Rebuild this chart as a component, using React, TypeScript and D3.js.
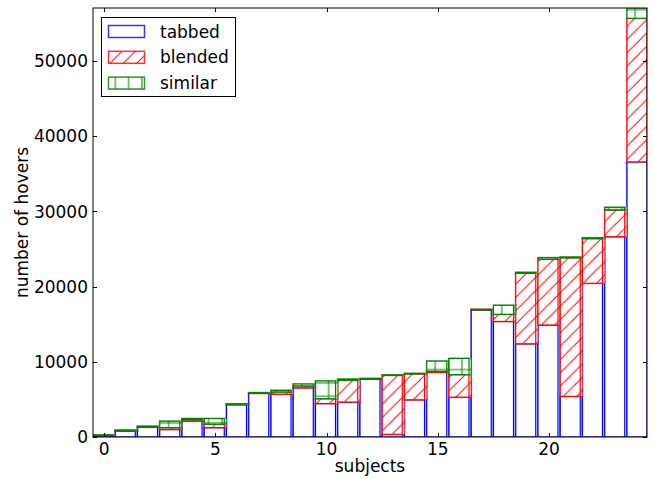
import React, { useEffect, useRef } from 'react';
import * as d3 from 'd3';

// values, one per subject
const subjects = d3.range(25);
const tabbed = [150, 800, 1300, 1000, 2100, 1250, 4300, 5800, 5700, 6550, 4450, 4650, 7700, 350, 4950, 8600, 5300, 16900, 15370, 12400, 14900, 5400, 20450, 26650, 36600];
const blended = [50, 50, 50, 250, 200, 450, 50, 50, 300, 250, 650, 2900, 40, 7850, 3450, 150, 3000, 40, 950, 9400, 8750, 18450, 5950, 3550, 19100];
const similar = [80, 60, 80, 850, 150, 750, 50, 50, 200, 250, 2350, 150, 40, 50, 50, 1350, 2150, 40, 1200, 100, 200, 80, 100, 350, 1370];
const xTicks = [0, 5, 10, 15, 20];
const yTicks = [0, 10000, 20000, 30000, 40000, 50000];

const series = [
  { name: 'tabbed', values: tabbed, color: '#0000ff', fill: '#ffffff' },
  { name: 'blended', values: blended, color: '#ff0000', fill: 'url(#hatch-slash)' },
  { name: 'similar', values: similar, color: '#008000', fill: 'url(#hatch-plus)' },
];

const App = () => {
  const chartRef = useRef<SVGSVGElement>(null);

  useEffect(() => {
    const width = 654;
    const height = 479;
    const margin = { top: 8, right: 7, bottom: 42, left: 93 };
    const font = 'DejaVu Sans, sans-serif';

    const svg = d3.select(chartRef.current);
    svg.selectAll('*').remove();

    const totals = subjects.map((i) => tabbed[i] + blended[i] + similar[i]);

    const x = d3.scaleLinear().domain([-0.5, 24.4]).range([margin.left, width - margin.right]);
    const y = d3.scaleLinear().domain([0, d3.max(totals)]).range([height - margin.bottom, margin.top]);

    const defs = svg.append('defs');
    const hs = 13.33;
    const slash = defs
      .append('pattern')
      .attr('id', 'hatch-slash')
      .attr('patternUnits', 'userSpaceOnUse')
      .attr('width', hs)
      .attr('height', hs);
    slash.append('rect').attr('width', hs).attr('height', hs).attr('fill', '#fff');
    slash
      .append('path')
      .attr('d', `M0,${hs} L${hs},0 M${-hs / 2},${hs / 2} L${hs / 2},${-hs / 2} M${hs / 2},${hs * 1.5} L${hs * 1.5},${hs / 2}`)
      .attr('stroke', '#ff0000')
      .attr('stroke-width', 1);

    const plus = defs
      .append('pattern')
      .attr('id', 'hatch-plus')
      .attr('patternUnits', 'userSpaceOnUse')
      .attr('width', hs)
      .attr('height', hs)
      .attr('x', 2)
      .attr('y', 3);
    plus.append('rect').attr('width', hs).attr('height', hs).attr('fill', '#fff');
    plus
      .append('path')
      .attr('d', `M${hs / 2},0 V${hs} M0,${hs / 2} H${hs}`)
      .attr('stroke', '#008000')
      .attr('stroke-width', 1);

    defs
      .append('clipPath')
      .attr('id', 'plot-clip')
      .append('rect')
      .attr('x', margin.left)
      .attr('y', margin.top)
      .attr('width', width - margin.left - margin.right)
      .attr('height', height - margin.top - margin.bottom);

    const plot = svg.append('g').attr('clip-path', 'url(#plot-clip)');

    const stack = d3
      .stack<number>()
      .keys(['0', '1', '2'])
      .value((i, key) => series[+key].values[i]);
    const layers = stack(subjects);

    layers.forEach((layer, k) => {
      const s = series[k];
      const g = plot.append('g');
      // light, slightly wider outline behind each bar
      g.selectAll('rect.halo')
        .data(layer)
        .enter()
        .append('rect')
        .attr('class', 'halo')
        .attr('x', (d) => x(d.data - 0.5))
        .attr('width', x(1) - x(0))
        .attr('y', (d) => y(d[1]))
        .attr('height', (d) => y(d[0]) - y(d[1]))
        .attr('fill', s.fill)
        .attr('stroke', s.color)
        .attr('stroke-opacity', 0.45)
        .attr('stroke-width', 2);
      g.selectAll('rect.bar')
        .data(layer)
        .enter()
        .append('rect')
        .attr('class', 'bar')
        .attr('x', (d) => x(d.data - 0.5))
        .attr('width', x(0.9) - x(0))
        .attr('y', (d) => y(d[1]))
        .attr('height', (d) => y(d[0]) - y(d[1]))
        .attr('fill', s.fill)
        .attr('stroke', s.color)
        .attr('stroke-width', 1.2);
    });

    // frame
    const x0 = margin.left;
    const x1 = width - margin.right;
    const y0 = height - margin.bottom;
    const y1 = margin.top;
    svg
      .append('rect')
      .attr('x', x0)
      .attr('y', y1)
      .attr('width', x1 - x0)
      .attr('height', y0 - y1)
      .attr('fill', 'none')
      .attr('stroke', '#000')
      .attr('stroke-width', 1);

    // ticks inward on all sides
    const tl = 4;
    xTicks.forEach((t) => {
      const px = Math.round(x(t)) + 0.5;
      svg.append('line').attr('x1', px).attr('x2', px).attr('y1', y0).attr('y2', y0 - tl).attr('stroke', '#000');
      svg.append('line').attr('x1', px).attr('x2', px).attr('y1', y1).attr('y2', y1 + tl).attr('stroke', '#000');
      svg
        .append('text')
        .attr('x', x(t))
        .attr('y', y0 + 18)
        .attr('text-anchor', 'middle')
        .attr('font-family', font)
        .attr('font-size', 17)
        .text(t);
    });
    yTicks.forEach((t) => {
      const py = Math.round(y(t)) + 0.5;
      svg.append('line').attr('x1', x0).attr('x2', x0 + tl).attr('y1', py).attr('y2', py).attr('stroke', '#000');
      svg.append('line').attr('x1', x1).attr('x2', x1 - tl).attr('y1', py).attr('y2', py).attr('stroke', '#000');
      svg
        .append('text')
        .attr('x', x0 - 5)
        .attr('y', y(t))
        .attr('dy', '0.36em')
        .attr('text-anchor', 'end')
        .attr('font-family', font)
        .attr('font-size', 17)
        .text(t);
    });

    svg
      .append('text')
      .attr('x', (x0 + x1) / 2)
      .attr('y', 472)
      .attr('text-anchor', 'middle')
      .attr('font-family', font)
      .attr('font-size', 17)
      .text('subjects');
    svg
      .append('text')
      .attr('transform', `translate(28,${(y0 + y1) / 2}) rotate(-90)`)
      .attr('text-anchor', 'middle')
      .attr('font-family', font)
      .attr('font-size', 17)
      .text('number of hovers');

    // legend
    const legend = svg.append('g');
    legend
      .append('rect')
      .attr('x', 101.5)
      .attr('y', 17.5)
      .attr('width', 134)
      .attr('height', 79)
      .attr('fill', '#fff')
      .attr('stroke', '#000');
    series.forEach((s, k) => {
      const ty = 37.5 + k * 25.8;
      legend
        .append('rect')
        .attr('x', 108.5)
        .attr('y', ty - 12)
        .attr('width', 36)
        .attr('height', 12)
        .attr('fill', s.fill)
        .attr('stroke', s.color)
        .attr('stroke-opacity', 0.8)
        .attr('stroke-width', 1.5);
      legend
        .append('text')
        .attr('x', 160)
        .attr('y', ty)
        .attr('font-family', font)
        .attr('font-size', 17)
        .text(s.name);
    });
  }, []);

  return (
    <svg
      ref={chartRef}
      width={654}
      height={479}
      style={{ position: 'absolute', left: 0, top: 0, background: '#fff' }}
    />
  );
};

export default App;
